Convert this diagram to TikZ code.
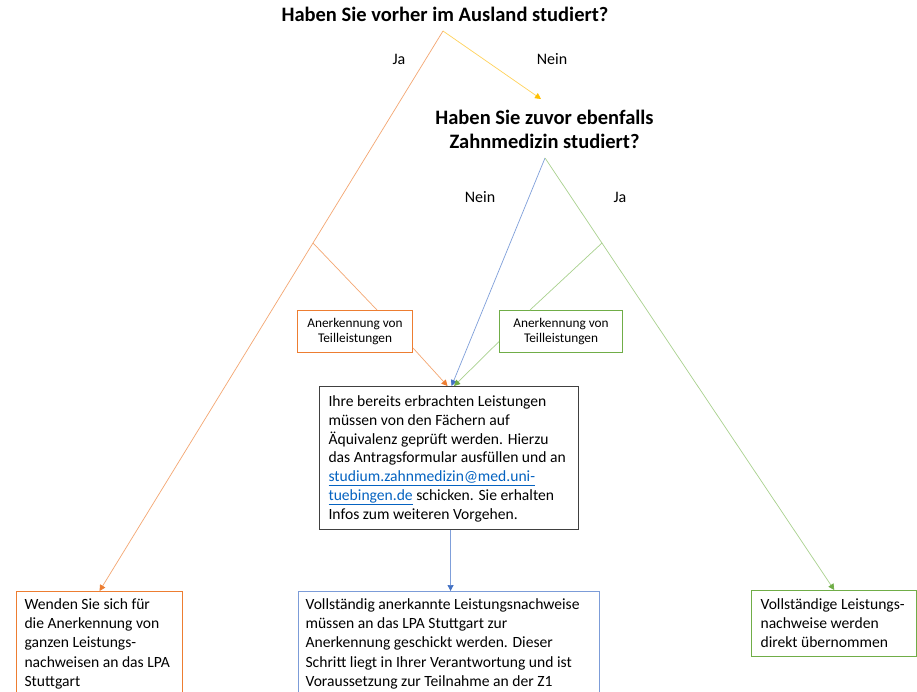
\documentclass[tikz,border=0pt]{standalone}
\usepackage{fontspec}
\setmainfont{Carlito}
\usetikzlibrary{arrows.meta,calc}
\definecolor{orBox}{HTML}{ED7D31}
\definecolor{orLine}{HTML}{F4A772}
\definecolor{yeArr}{HTML}{FFC000}
\definecolor{yeLine}{HTML}{FFD25A}
\definecolor{blBox}{HTML}{7C9CD8}
\definecolor{blLine}{HTML}{7F9FDA}
\definecolor{blArr}{HTML}{4472C4}
\definecolor{grBox}{HTML}{70AD47}
\definecolor{grLine}{HTML}{A9D18E}
\definecolor{grArr}{HTML}{70AD47}
\definecolor{linkc}{HTML}{0563C1}
% #1 width, #2 height, #3 first baseline offset, #4 line spacing, #5 lines
\newcommand{\boxtext}[5]{\parbox[c][#2][t]{#1}{\fontsize{15.6}{#4}\selectfont\rule{0pt}{#3}\begin{tabular}[t]{@{}l@{}}#5\end{tabular}}}
\tikzset{
  qtitle/.style={font=\fontsize{20.5}{24}\selectfont\bfseries, align=center, inner sep=0pt},
  lbl/.style={font=\fontsize{16}{19}\selectfont, inner sep=0pt},
  tbox/.style={rectangle, line width=1.1pt, inner ysep=0pt, anchor=north west},
  sbox/.style={rectangle, line width=1.1pt, inner sep=0pt, align=center,
    minimum width=#1, minimum height=42pt, font=\fontsize{13.3}{15}\selectfont, anchor=north west},
  conn/.style={line width=0.7pt},
  tipA/.style={-{Triangle[length=6pt,width=6pt,fill=#1,color=#1]}}
}
\begin{document}
\begin{tikzpicture}[x=1pt,y=-1pt]
\clip (0,0) rectangle (917,691);
\fill[white] (0,0) rectangle (917,691);

% titles
\node[qtitle, anchor=base] (q1) at (445,21) {Haben Sie vorher im Ausland studiert?};
\node[qtitle, anchor=base] (q2a) at (544.5,124) {Haben Sie zuvor ebenfalls};
\node[qtitle, anchor=base] (q2b) at (544.5,148) {Zahnmedizin studiert?};

% labels
\node[lbl] (ja1) at (399,59) {Ja};
\node[lbl] (nein1) at (552,59) {Nein};
\node[lbl] (nein2) at (480,197) {Nein};
\node[lbl] (ja2) at (620,197) {Ja};

% coordinates
\coordinate (s1) at (443,31);
\coordinate (s2) at (545,158);
\coordinate (q2in) at (541,99);
\coordinate (ob) at (313,243);
\coordinate (gb) at (602,243);

% small boxes
\node[sbox=115pt, draw=orBox] (ot) at (297,310) {Anerkennung von\\Teilleistungen};
\node[sbox=123pt, draw=grBox] (gt) at (499,310) {Anerkennung von\\Teilleistungen};

% middle box
\node[tbox, draw=black!75, inner xsep=9pt] (mid) at (319,386)
 {\boxtext{241pt}{143pt}{20pt}{18.8pt}{Ihre bereits erbrachten Leistungen\\
 müssen von den Fächern auf\\
 Äquivalenz geprüft werden. Hierzu\\
 das Antragsformular ausfüllen und an\\
 \textcolor{linkc}{\underline{studium.zahnmedizin@med.uni-}}\\
 \textcolor{linkc}{\underline{tuebingen.de}} schicken. Sie erhalten\\
 Infos zum weiteren Vorgehen.}};

% bottom boxes
\node[tbox, draw=orBox, inner xsep=8pt] (lb) at (16,591)
 {\boxtext{150pt}{130pt}{18pt}{19.2pt}{Wenden Sie sich für\\
 die Anerkennung von\\
 ganzen Leistungs-\\
 nachweisen an das LPA\\
 Stuttgart}};
\node[tbox, draw=blBox, inner xsep=7pt] (cb) at (298,591)
 {\boxtext{287pt}{130pt}{18pt}{19.2pt}{Vollständig anerkannte Leistungsnachweise\\
 müssen an das LPA Stuttgart zur\\
 Anerkennung geschickt werden. Dieser\\
 Schritt liegt in Ihrer Verantwortung und ist\\
 Voraussetzung zur Teilnahme an der Z1}};
\node[tbox, draw=grBox, inner xsep=9pt] (rb) at (751,590)
 {\boxtext{147.4pt}{66pt}{18.5pt}{19.3pt}{Vollständige Leistungs-\\
 nachweise werden\\
 direkt übernommen}};

% connectors
\draw[conn, yeLine, tipA=yeArr] (s1) -- (q2in);
\draw[conn, orLine, tipA=orBox] (s1) -- (lb.north);
\draw[conn, orLine] (ob) -- ($(ot.north west)+(80,0)$);
\draw[conn, orLine, tipA=orBox] ($(ot.south east)+(0,-5)$) -- ($(mid.north)+(-1.5,0)$);
\draw[conn, blLine, tipA=blArr] (s2) -- ($(mid.north)+(2.5,0)$);
\draw[conn, grLine, tipA=grArr] (s2) -- (rb.north);
\draw[conn, grLine] (gb) -- ($(gt.north west)+(31,0)$);
\draw[conn, grLine, tipA=grArr] ($(gt.west)+(0,10)$) -- ($(mid.north)+(5,0)$);
\draw[conn, blLine, tipA=blArr] ($(mid.south)+(1.5,0)$) -- ($(cb.north)+(1.5,0)$);
\end{tikzpicture}
\end{document}
